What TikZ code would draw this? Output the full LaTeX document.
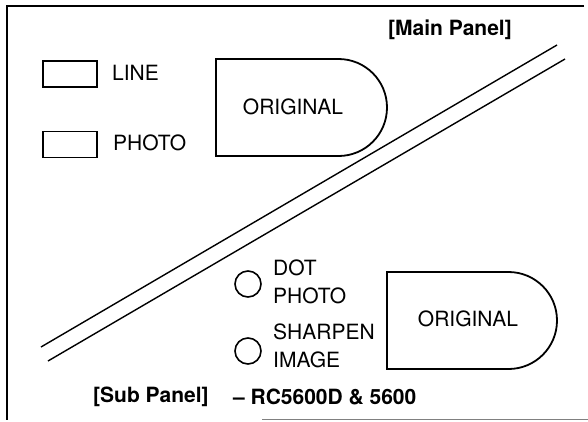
\documentclass[tikz,border=0pt]{standalone}
\usepackage{fontspec}
\setmainfont{TeX Gyre Heros}
\begin{document}
\begin{tikzpicture}[
  x=1pt, y=-1pt,
  txt/.style={font=\fontsize{21}{28}\selectfont, inner sep=0pt, align=left},
  head/.style={font=\fontsize{21}{28}\selectfont\bfseries, inner sep=0pt},
  key/.style={draw, line width=1.8pt, minimum width=54pt, minimum height=26pt, inner sep=0pt},
  lamp/.style={draw, circle, line width=1.6pt, minimum size=26pt, inner sep=0pt},
  rail/.style={line width=1.4pt}
]
  \useasboundingbox (0,0) rectangle (588,421);

  % Frame
  \draw[line width=1.2pt] (584,6) -- (7,6) -- (7,420);
  \draw[line width=1pt, gray] (262,419) -- (588,419);

  % Main panel
  \node[head] (mainlbl) at (450,30) {[Main Panel]};
  \node[key] (linekey) at (70,74) {};
  \node[key] (photokey) at (70,144.5) {};
  \node[txt, anchor=west] (linetxt) at (112,73) {LINE};
  \node[txt, anchor=west] (phototxt) at (113,143) {PHOTO};
  \draw[line width=1.8pt] (216,59) -- (338.5,59) arc[start angle=90, end angle=-90, radius=48.5pt]
    -- (216,156) -- cycle;
  \node[txt] (mainorig) at (293,107) {ORIGINAL};

  % Divider
  \coordinate (railAs) at (41,347);
  \coordinate (railAe) at (557,45);
  \coordinate (railBs) at (48,361);
  \coordinate (railBe) at (565,59);
  \draw[rail] (railAs) -- (railAe);
  \draw[rail] (railBs) -- (railBe);

  % Sub panel
  \node[lamp] (dotlamp) at (248,284) {};
  \node[lamp] (sharplamp) at (248,351) {};
  \node[txt, anchor=west] (dottxt) at (273,282) {DOT\\PHOTO};
  \node[txt, anchor=west] (sharptxt) at (273,345.5) {SHARPEN\\IMAGE};
  \draw[line width=1.8pt] (387,272) -- (508.5,272) arc[start angle=90, end angle=-90, radius=48.5pt]
    -- (387,369) -- cycle;
  \node[txt] (suborig) at (468,319) {ORIGINAL};
  \node[head, anchor=west] (sublbl) at (93,397) {[Sub Panel]};
  \node[head, anchor=west] (modellbl) at (233,397) {-- RC5600D \& 5600};
\end{tikzpicture}
\end{document}
